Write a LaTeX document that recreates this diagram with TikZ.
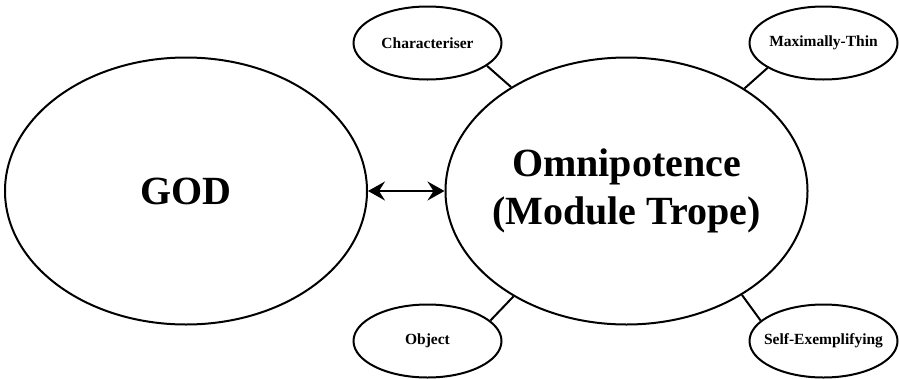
\documentclass[tikz,border=0pt]{standalone}
\usepackage{fontspec}
\setmainfont{Liberation Serif}
\usetikzlibrary{shapes.geometric,arrows.meta}
\begin{document}
\begin{tikzpicture}[x=1pt,y=-1pt,
  bigblob/.style={ellipse,draw,line width=2pt,inner sep=0pt,
    minimum width=362pt,minimum height=267pt},
  bigtext/.style={font=\fontsize{40}{48}\selectfont\bfseries,align=center},
  smallblob/.style={ellipse,draw,line width=2pt,inner sep=0pt,
    minimum width=148pt,minimum height=73pt},
  smalltext/.style={font=\fontsize{15.5}{18}\selectfont\bfseries},
  link/.style={line width=2pt},
  twoway/.style={line width=2pt,{Stealth[length=17pt,width=19pt,inset=6pt]}-{Stealth[length=17pt,width=19pt,inset=6pt]}}]
\useasboundingbox (0,0) rectangle (899,378);

% the two main concepts
\node[bigblob,label={[bigtext]center:GOD}] (god) at (186,191) {};
\node[bigblob,label={[bigtext]center:Omnipotence\\(Module Trope)}] (omni) at (626.5,191) {};

% the four facets of the trope
\node[smallblob,label={[smalltext]center:Characteriser}] (char) at (427.5,43) {};
\node[smallblob,label={[smalltext]center:Maximally-Thin}] (thin) at (823.5,43) {};
\node[smallblob,label={[smalltext]center:Object}] (obj) at (427.5,341) {};
\node[smallblob,label={[smalltext]center:Self-Exemplifying}] (self) at (823.5,341) {};

\draw[twoway] (god.east) -- (omni.west);

\draw[link] (char.-21) -- (omni.138.5);
\draw[link] (thin.-156) -- (omni.41.5);
\draw[link] (obj.18) -- (omni.-137);
\draw[link] (self.162) -- (omni.-42);
\end{tikzpicture}
\end{document}
